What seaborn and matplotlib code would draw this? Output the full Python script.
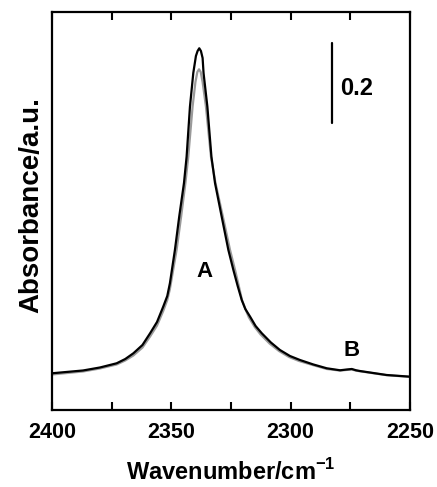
import matplotlib
matplotlib.use("Agg")
import matplotlib.pyplot as plt
import seaborn as sns
import pandas as pd

# ---- data ----
black_wn = [2400.0, 2387.0, 2379.9, 2372.9, 2369.3, 2365.9, 2362.1, 2358.9, 2356.0,
            2353.4, 2351.7, 2350.6, 2348.5, 2346.7, 2344.7, 2343.6, 2342.2, 2340.8,
            2339.7, 2339.0, 2338.3, 2337.6, 2336.9, 2336.5, 2334.9, 2333.2, 2331.7,
            2328.9, 2326.1, 2324.0, 2322.2, 2320.5, 2319.0, 2317.0, 2314.7, 2312.1,
            2308.3, 2304.5, 2300.3, 2296.1, 2290.5, 2284.9, 2279.3, 2276.8, 2274.4,
            2272.6, 2271.0, 2259.8, 2250.0]
black_abs = [0.0918, 0.0988, 0.1063, 0.1168, 0.1275, 0.1418, 0.1625, 0.1918, 0.220,
             0.2583, 0.285, 0.3168, 0.400, 0.4833, 0.5675, 0.6333, 0.7583, 0.8425,
             0.885, 0.8975, 0.9043, 0.8975, 0.880, 0.8425, 0.7583, 0.6333, 0.5675,
             0.4833, 0.400, 0.350, 0.310, 0.275, 0.2525, 0.2333, 0.210, 0.1918,
             0.1688, 0.150, 0.135, 0.125, 0.1138, 0.1043, 0.0993, 0.101, 0.1025,
             0.0993, 0.0975, 0.0875, 0.0833]

gray_wn = [2400.0, 2387.0, 2379.9, 2372.9, 2369.3, 2365.9, 2362.1, 2358.9, 2356.0,
           2353.4, 2351.7, 2350.6, 2347.8, 2345.9, 2344.1, 2342.9, 2341.1, 2339.9,
           2339.1, 2338.4, 2337.7, 2336.9, 2335.5, 2333.4, 2331.5, 2328.4, 2325.4,
           2323.3, 2321.8, 2320.4, 2318.8, 2317.5, 2315.0, 2312.6, 2308.8, 2304.9,
           2300.7, 2296.5, 2290.5, 2284.9, 2279.3, 2276.8, 2274.4, 2272.6, 2271.0,
           2259.8, 2250.0]
gray_abs = [0.0888, 0.0963, 0.1038, 0.1138, 0.1238, 0.1363, 0.1560, 0.1838, 0.2110,
            0.2475, 0.2750, 0.3025, 0.400, 0.4833, 0.5675, 0.6333, 0.7583, 0.820,
            0.845, 0.8518, 0.845, 0.820, 0.7583, 0.6333, 0.5675, 0.4833, 0.400,
            0.350, 0.312, 0.275, 0.2500, 0.2313, 0.2070, 0.1888, 0.1660, 0.1475,
            0.1325, 0.1225, 0.1120, 0.1025, 0.0985, 0.100, 0.1013, 0.0983, 0.0968,
            0.087, 0.0828]

x_ticks = [2400, 2350, 2300, 2250]
x_minor = [2375, 2325, 2275]
peak_labels = ["A", "B"]
peak_label_wn = [2335.9, 2274.6]
peak_label_abs = [0.333, 0.135]
scale_bar_wn = 2282.7
scale_bar_range = [0.7175, 0.9175]
scale_bar_text = "0.2"
scale_text_wn = 2279.3
scale_text_abs = 0.7875

# ---- style ----
sns.set_theme(style="white")
plt.rcParams["font.family"] = ["Liberation Sans", "DejaVu Sans"]
plt.rcParams["font.weight"] = "bold"
plt.rcParams["mathtext.fontset"] = "custom"
plt.rcParams["mathtext.rm"] = "Liberation Sans:bold"
plt.rcParams["mathtext.bf"] = "Liberation Sans:bold"

fig = plt.figure(figsize=(4.37, 4.87), dpi=100)
ax = fig.add_axes([52 / 437, 1 - 410 / 487, 358 / 437, 398 / 487])

df_g = pd.DataFrame({"wn": gray_wn, "a": gray_abs})
df_b = pd.DataFrame({"wn": black_wn, "a": black_abs})
sns.lineplot(data=df_g, x="wn", y="a", ax=ax, color="#9a9a9a", lw=1.6)
sns.lineplot(data=df_b, x="wn", y="a", ax=ax, color="black", lw=1.6)

ax.set_xlim(2400, 2250)
ax.set_ylim(0, 0.995)

ax.set_xticks(x_ticks)
ax.set_xticks(x_minor, minor=True)
ax.set_xticklabels([str(t) for t in x_ticks], fontsize=15.5, fontweight="bold")
ax.tick_params(axis="x", which="both", direction="in", length=6, width=1.5,
               top=True, bottom=True, pad=9, color="black", labelcolor="black")
ax.set_yticks([])

for s in ax.spines.values():
    s.set_linewidth(1.6)
    s.set_color("black")

ax.set_xlabel(r"Wavenumber/cm$^{\mathbf{-1}}$", fontsize=17, fontweight="bold",
              labelpad=11, color="black")
ax.set_ylabel("Absorbance/a.u.", fontsize=20, fontweight="bold", color="black")
ax.yaxis.set_label_coords(-0.021, 0.514)

for t, xw, ya in zip(peak_labels, peak_label_wn, peak_label_abs):
    ax.text(xw, ya, t, fontsize=16, fontweight="bold", ha="center",
            va="baseline", color="black")

ax.plot([scale_bar_wn, scale_bar_wn], scale_bar_range, color="black", lw=1.6)
ax.text(scale_text_wn, scale_text_abs, scale_bar_text, fontsize=17,
        fontweight="bold", ha="left", va="baseline", color="black")

fig.savefig("out.png", dpi=100)
